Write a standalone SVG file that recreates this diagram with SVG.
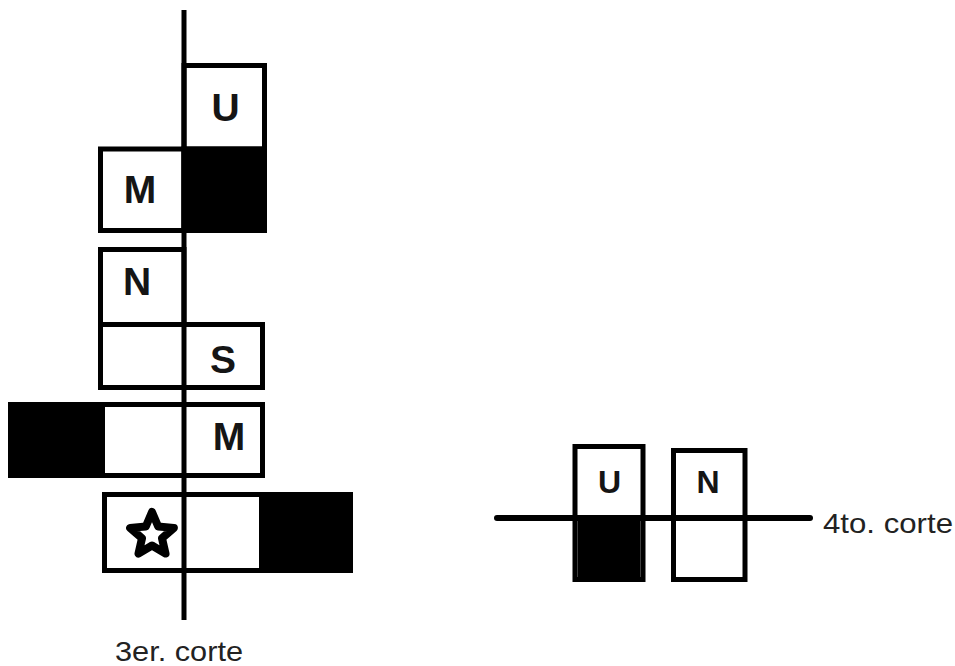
<svg xmlns="http://www.w3.org/2000/svg" width="955" height="666" viewBox="0 0 955 666">
<style>
.box{fill:#fff;stroke:#000;stroke-width:5}
.blk{fill:#000;stroke:#000;stroke-width:5}
.cut{stroke:#000;stroke-width:5;fill:none;stroke-linecap:butt}
.lt{font-family:"Liberation Sans",Arial,sans-serif;font-weight:bold;font-size:39px;fill:#151515;text-anchor:middle}
.lt2{font-family:"Liberation Sans",Arial,sans-serif;font-weight:bold;font-size:32px;fill:#151515;text-anchor:middle}
.cap{font-family:"Liberation Sans",Arial,sans-serif;font-size:28px;fill:#222}
</style>
<rect width="955" height="666" fill="#fff"/>
<g id="row1">
<rect class="box" x="184" y="65.5" width="80.5" height="83.5"/>
<text class="lt" x="225.5" y="121">U</text>
</g>
<g id="row2">
<rect class="box" x="100.5" y="149" width="83.5" height="81.5"/>
<rect class="blk" x="184" y="149" width="80.5" height="81.5"/>
<text class="lt" x="140" y="203">M</text>
</g>
<g id="row3">
<rect class="box" x="100.5" y="249.5" width="83.5" height="75"/>
<text class="lt" x="137" y="295">N</text>
</g>
<g id="row4">
<rect class="box" x="100.5" y="324.5" width="162" height="63"/>
<text class="lt" x="223" y="373">S</text>
</g>
<g id="row5">
<rect class="blk" x="10.5" y="404.5" width="92" height="71"/>
<rect class="box" x="102.5" y="404.5" width="160" height="71"/>
<text class="lt" x="229" y="450">M</text>
</g>
<g id="row6">
<rect class="box" x="104.5" y="494.5" width="157" height="76"/>
<rect class="blk" x="261.5" y="494.5" width="89" height="76"/>
<polygon points="152,512 158.17,526.51 173.87,527.89 161.99,538.24 165.52,553.61 152,545.5 138.48,553.61 142.01,538.24 130.13,527.89 145.83,526.51" fill="#fff" stroke="#000" stroke-width="8" stroke-linejoin="round"/>
</g>
<g id="right-U">
<rect class="box" x="575" y="446.5" width="68" height="133"/>
<rect x="577.5" y="518" width="63" height="59" fill="#000"/>
<text class="lt2" x="609.5" y="493">U</text>
</g>
<g id="right-N">
<rect class="box" x="673.5" y="450.5" width="71.5" height="129"/>
<text class="lt2" x="708" y="493">N</text>
</g>
<g id="connectors">
<line class="cut" x1="184" y1="10" x2="184" y2="620"/>
<line x1="497" y1="518" x2="810" y2="518" stroke="#000" stroke-width="6" stroke-linecap="round"/>
</g>
<g id="labels">
<text class="cap" x="115" y="661" textLength="128" lengthAdjust="spacingAndGlyphs">3er. corte</text>
<text class="cap" x="823" y="533" textLength="130" lengthAdjust="spacingAndGlyphs">4to. corte</text>
</g>
</svg>
